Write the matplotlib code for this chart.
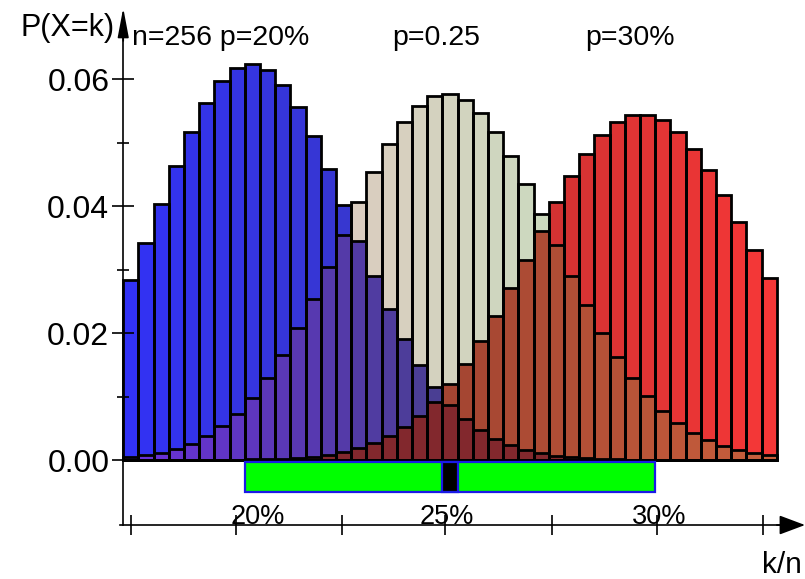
import numpy as np
import matplotlib.pyplot as plt

plt.rcParams['font.family'] = ['Liberation Sans', 'DejaVu Sans']

# Binomialverteilungen n=256
n = 256
k_werte = list(range(43, 86))

p20 = [0.02829, 0.03424, 0.04032, 0.04624, 0.05165, 0.05622, 0.05966, 0.06174,
       0.06235, 0.06145, 0.05913, 0.05557, 0.05102, 0.04578, 0.04016, 0.03445,
       0.02890, 0.02372, 0.01905, 0.01498, 0.01153, 0.00869, 0.00642, 0.00465,
       0.00329, 0.00229, 0.00156, 0.00104, 0.00068, 0.00044, 0.00028, 0.00017,
       0.00010, 0.00006, 0.00004, 0.00002, 0.00001, 0.0, 0.0, 0.0, 0.0, 0.0, 0.0]

p25 = [0.00045, 0.00072, 0.00113, 0.00173, 0.00257, 0.00373, 0.00528, 0.00728,
       0.00980, 0.01288, 0.01653, 0.02072, 0.02536, 0.03034, 0.03549, 0.04059,
       0.04541, 0.04970, 0.05323, 0.05580, 0.05728, 0.05758, 0.05669, 0.05469,
       0.05170, 0.04790, 0.04350, 0.03874, 0.03383, 0.02897, 0.02434, 0.02007,
       0.01623, 0.01289, 0.01004, 0.00768, 0.00577, 0.00426, 0.00308, 0.00219,
       0.00153, 0.00105, 0.00071]

p30 = [0.0, 0.0, 0.0, 0.0, 0.0, 0.00001, 0.00003, 0.00005,
       0.00008, 0.00013, 0.00022, 0.00035, 0.00055, 0.00084, 0.00126, 0.00186,
       0.00267, 0.00376, 0.00518, 0.00698, 0.00921, 0.01190, 0.01506, 0.01868,
       0.02270, 0.02704, 0.03157, 0.03614, 0.04057, 0.04468, 0.04826, 0.05115,
       0.05320, 0.05430, 0.05440, 0.05350, 0.05166, 0.04899, 0.04562, 0.04173,
       0.03749, 0.03309, 0.02870]

titel = ['n=256 p=20%', 'p=0.25', 'p=30%']
intervall = [51, 77]   # Modalwerte bei 20% und 30%
mitte = 64
x_ticks = [0.1680, 0.1950, 0.2222, 0.2487, 0.2762, 0.3032, 0.3304]
x_beschriftung = [('20%', 0.2007), ('25%', 0.2491), ('30%', 0.3038)]
y_ticks = [0.0, 0.02, 0.04, 0.06]
y_minor = [0.01, 0.03, 0.05]

# Farben (links, rechts) je nach Ueberlagerung
farben = {
    'B':   ((50, 50, 245), (64, 64, 133)),
    'T':   ((236, 191, 193), (186, 231, 189)),
    'R':   ((145, 40, 40), (245, 55, 55)),
    'BT':  ((107, 49, 219), (37, 77, 67)),
    'TR':  ((126, 42, 39), (200, 95, 60)),
    'BR':  ((130, 40, 45), (130, 40, 45)),
    'BTR': ((130, 40, 45), (130, 40, 45)),
}

def farbe(code, t):
    a, b = farben[code]
    return tuple(np.clip((a[i] + (b[i] - a[i]) * t) / 255, 0, 1) for i in range(3))


fig = plt.figure(figsize=(8.05, 5.79), dpi=100)
ax = fig.add_axes([0, 0, 1, 1])
ax.set_xlim(0.134346, 0.341237)
ax.set_ylim(-0.018740, 0.072441)

x = np.array(k_werte) / n
breite = 1 / n

# Segmente mit Mischfarben
for i, k in enumerate(k_werte):
    t = (k - k_werte[0]) / (k_werte[-1] - k_werte[0])
    h = {'B': p20[i], 'T': p25[i], 'R': p30[i]}
    stufen = sorted(set(h.values()) | {0.0})
    for lo, hi in zip(stufen[:-1], stufen[1:]):
        code = ''.join(c for c in 'BTR' if h[c] >= hi)
        ax.bar(x[i], hi - lo, bottom=lo, width=breite, color=farbe(code, t), linewidth=0)

# Umrisse
for werte in (p20, p25, p30):
    ax.bar(x, werte, width=breite, fill=False, edgecolor='black', linewidth=2.0)

# gruener Balken fuer das Intervall
lo, hi = intervall
ax.bar((lo - 0.5) / n, -0.0047, bottom=-0.0003, width=(hi - lo + 1) / n, align='edge',
       color='#00ff00', edgecolor='#1a1ae6', linewidth=1.6)
ax.bar((mitte - 0.5) / n, -0.0047, bottom=-0.0003, width=1 / n, align='edge',
       color='black', edgecolor='#1a1ae6', linewidth=1.6)

# Achsen
y0 = -0.01024
x0 = (k_werte[0] - 0.5) / n
for s in ['top', 'right']:
    ax.spines[s].set_visible(False)
ax.spines['left'].set_position(('data', x0))
ax.spines['bottom'].set_position(('data', y0))
ax.spines['left'].set_bounds(y0, 0.068)
ax.spines['bottom'].set_bounds(0.16519, 0.336)
ax.spines['left'].set_linewidth(1.2)
ax.spines['bottom'].set_linewidth(1.2)

ax.set_yticks(y_ticks)
ax.set_yticklabels(['%.2f' % v for v in y_ticks])
ax.set_yticks(y_minor, minor=True)
ax.set_xticks(x_ticks)
ax.set_xticklabels([])
ax.tick_params(axis='y', which='major', direction='inout', length=16, width=1.2,
               labelsize=23, pad=2)
ax.tick_params(axis='y', which='minor', direction='inout', length=9, width=1.2)
ax.tick_params(axis='x', which='major', direction='inout', length=14, width=1.2)

ax.annotate('', xy=(x0, 0.07118), xytext=(x0, 0.066),
            arrowprops=dict(arrowstyle='-|>,head_length=0.9,head_width=0.17',
                            mutation_scale=20, color='black', lw=1.2,
                            shrinkA=0, shrinkB=0))
ax.annotate('', xy=(0.34124, y0), xytext=(0.334, y0),
            arrowprops=dict(arrowstyle='-|>,head_length=0.8,head_width=0.3',
                            mutation_scale=20, color='black', lw=1.2,
                            shrinkA=0, shrinkB=0))

# Beschriftungen
ax.text(115 / 805, 1 - 36 / 579, 'P(X=k)', transform=ax.transAxes, fontsize=22,
        ha='right', va='baseline')
for txt, px in zip(titel, [132, 392, 585]):
    ax.text(px / 805, 1 - 45 / 579, txt, transform=ax.transAxes, fontsize=20.5,
            ha='left', va='baseline')
for txt, xp in x_beschriftung:
    ax.text(xp, y0 + 0.0002, txt, fontsize=19.5, ha='center', va='baseline')
ax.text(802 / 805, 1 - 573 / 579, 'k/n', transform=ax.transAxes, fontsize=21.5,
        ha='right', va='baseline')

fig.savefig('out.png', dpi=100)
